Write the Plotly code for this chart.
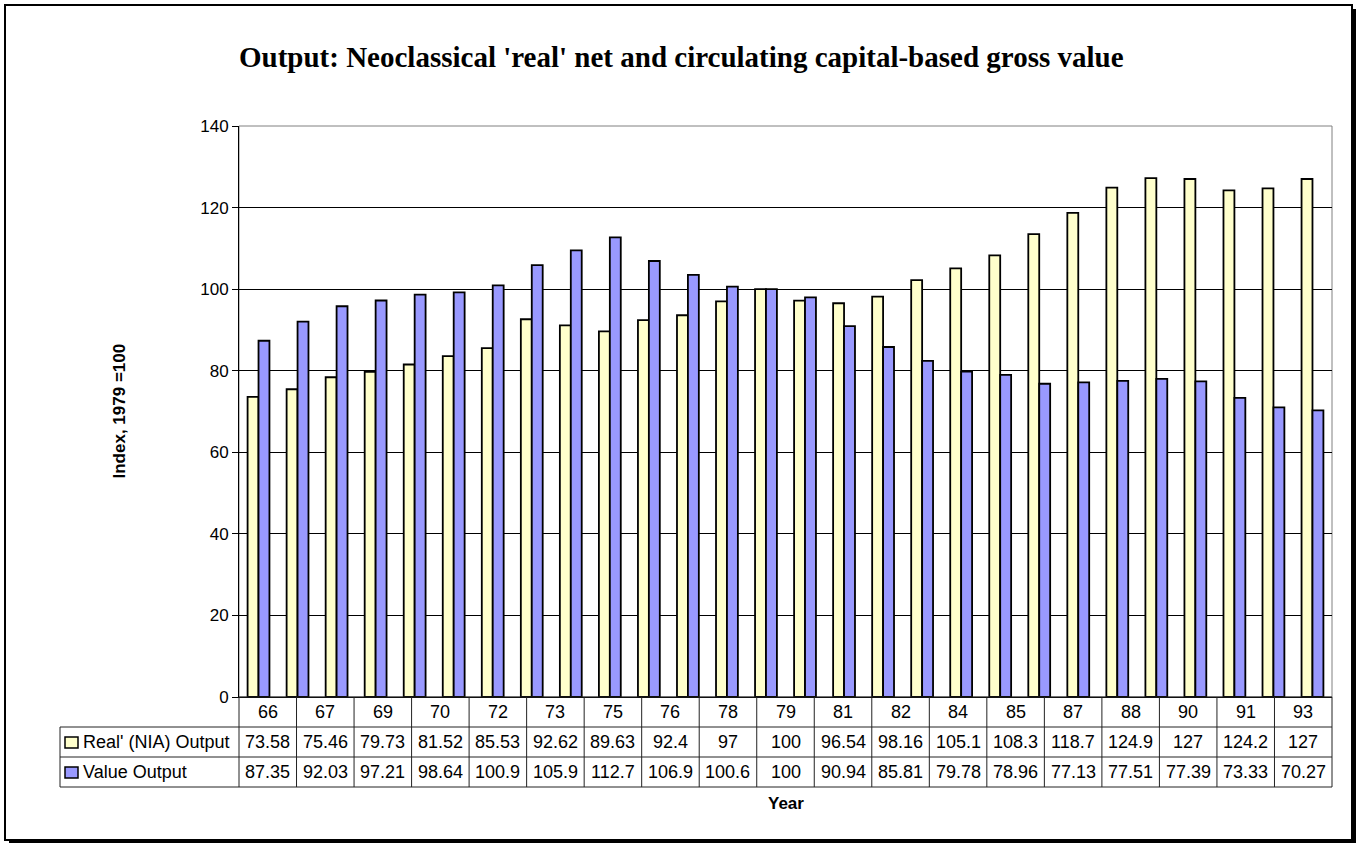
import plotly.graph_objects as go

# Years shown as bar groups (1966-1993)
years = list(range(66, 94))

# Neoclassical 'real' (NIA) output index, 1979 = 100
real_output = [73.58, 75.46, 78.4, 79.73, 81.52, 83.6, 85.53, 92.62, 91.1, 89.63,
               92.4, 93.6, 97, 100, 97.2, 96.54, 98.16, 102.2, 105.1, 108.3,
               113.5, 118.7, 124.9, 127.2, 127, 124.2, 124.7, 127]

# Circulating capital-based gross value output index, 1979 = 100
value_output = [87.35, 92.03, 95.8, 97.21, 98.64, 99.2, 100.9, 105.9, 109.5, 112.7,
                106.9, 103.5, 100.6, 100, 98.0, 90.94, 85.81, 82.4, 79.78, 78.96,
                76.8, 77.13, 77.51, 78.0, 77.39, 73.33, 71.0, 70.27]

# Years listed in the data table beneath the chart
table_years = [66, 67, 69, 70, 72, 73, 75, 76, 78, 79, 81, 82, 84, 85, 87, 88, 90, 91, 93]

series_names = ["Real' (NIA) Output", "Value Output"]
series_colors = ["#FFFFCC", "#9999FF"]

W, H = 1362, 843
L, R, T, B = 239, 30, 126, 146


def px(x):
    return (x - L) / (W - L - R)


def py(y):
    return (H - B - y) / (H - T - B)


FONT = "Liberation Sans, Arial, sans-serif"
TABLE_SIZE = 18

fig = go.Figure()
for name, vals, col in zip(series_names, [real_output, value_output], series_colors):
    fig.add_trace(go.Bar(
        x=years, y=vals, name=name,
        marker=dict(color=col, line=dict(color="black", width=1.8)),
    ))

shapes = []
annotations = []

# plot-area border (gray) under the black gridlines
shapes.append(dict(type="rect", xref="paper", yref="paper", x0=0, x1=1, y0=0, y1=1,
                   line=dict(color="#808080", width=1), layer="below"))

# data table grid
line_col = "#222222"
row_y = [697, 727, 757, 787]
for i, yy in enumerate(row_y):
    x0 = 239 if i == 0 else 60
    shapes.append(dict(type="line", xref="paper", yref="paper",
                       x0=px(x0), x1=1, y0=py(yy), y1=py(yy),
                       line=dict(color=line_col, width=1)))
shapes.append(dict(type="line", xref="paper", yref="paper",
                   x0=px(60), x1=px(60), y0=py(727), y1=py(787),
                   line=dict(color=line_col, width=1)))
ncol = len(table_years)
for k in range(ncol + 1):
    xx = k / ncol
    shapes.append(dict(type="line", xref="paper", yref="paper",
                       x0=xx, x1=xx, y0=py(697), y1=py(787),
                       line=dict(color=line_col, width=1)))

# table contents
for k, yr in enumerate(table_years):
    xc = (k + 0.5) / ncol
    idx = years.index(yr)
    annotations.append(dict(xref="paper", yref="paper", x=xc, y=py(712), text=str(yr),
                            showarrow=False, font=dict(family=FONT, size=TABLE_SIZE, color="black"),
                            xanchor="center", yanchor="middle"))
    for row, vals in zip([742, 772], [real_output, value_output]):
        annotations.append(dict(xref="paper", yref="paper", x=xc, y=py(row),
                                text="{:.4g}".format(vals[idx]), showarrow=False,
                                font=dict(family=FONT, size=TABLE_SIZE, color="black"),
                                xanchor="center", yanchor="middle"))

# legend keys inside the table
for row, name, col in zip([742, 772], series_names, series_colors):
    shapes.append(dict(type="rect", xref="paper", yref="paper",
                       x0=px(65), x1=px(78), y0=py(row - 5), y1=py(row + 6),
                       fillcolor=col, line=dict(color="black", width=1.5)))
    annotations.append(dict(xref="paper", yref="paper", x=px(81), y=py(row), text=name,
                            showarrow=False, font=dict(family=FONT, size=TABLE_SIZE, color="black"),
                            xanchor="left", yanchor="middle"))

# axis titles
annotations.append(dict(xref="paper", yref="paper", x=0.5, y=py(804), text="<b>Year</b>",
                        showarrow=False, font=dict(family=FONT, size=17, color="black"),
                        xanchor="center", yanchor="middle"))
annotations.append(dict(xref="paper", yref="paper", x=px(119), y=0.5,
                        text="<b>Index, 1979 =100</b>", textangle=-90, showarrow=False,
                        font=dict(family=FONT, size=17, color="black"),
                        xanchor="center", yanchor="middle"))

# chart title
annotations.append(dict(xref="paper", yref="paper", x=px(681), y=py(57),
                        text="<b>Output: Neoclassical 'real' net and circulating capital-based gross value</b>",
                        showarrow=False,
                        font=dict(family="Liberation Serif, Times New Roman, serif", size=29, color="black"),
                        xanchor="center", yanchor="middle"))

# outer chart frame with drop shadow
shapes.append(dict(type="rect", xref="paper", yref="paper",
                   x0=px(5), x1=px(1352), y0=py(5), y1=py(840),
                   line=dict(color="black", width=2)))
shapes.append(dict(type="rect", xref="paper", yref="paper",
                   x0=px(1351), x1=px(1356), y0=py(9), y1=py(843),
                   fillcolor="black", line=dict(width=0)))
shapes.append(dict(type="rect", xref="paper", yref="paper",
                   x0=px(9), x1=px(1356), y0=py(839), y1=py(843),
                   fillcolor="black", line=dict(width=0)))

fig.update_layout(
    width=W, height=H,
    margin=dict(l=L, r=R, t=T, b=B, pad=0),
    paper_bgcolor="white", plot_bgcolor="white",
    barmode="group", bargap=0.44, bargroupgap=0,
    showlegend=False,
    font=dict(family=FONT, color="black"),
    shapes=shapes, annotations=annotations,
    xaxis=dict(range=[65.5, 93.5], showticklabels=False, showgrid=False,
               showline=True, linecolor="black", linewidth=1, ticks="", zeroline=False),
    yaxis=dict(range=[0, 140], dtick=20, showgrid=True, gridcolor="black", gridwidth=1,
               showline=True, linecolor="black", linewidth=1, ticks="outside",
               ticklen=6, tickcolor="black", tickfont=dict(family=FONT, size=17, color="black"),
               zeroline=False),
)

fig.write_html("out.html")
